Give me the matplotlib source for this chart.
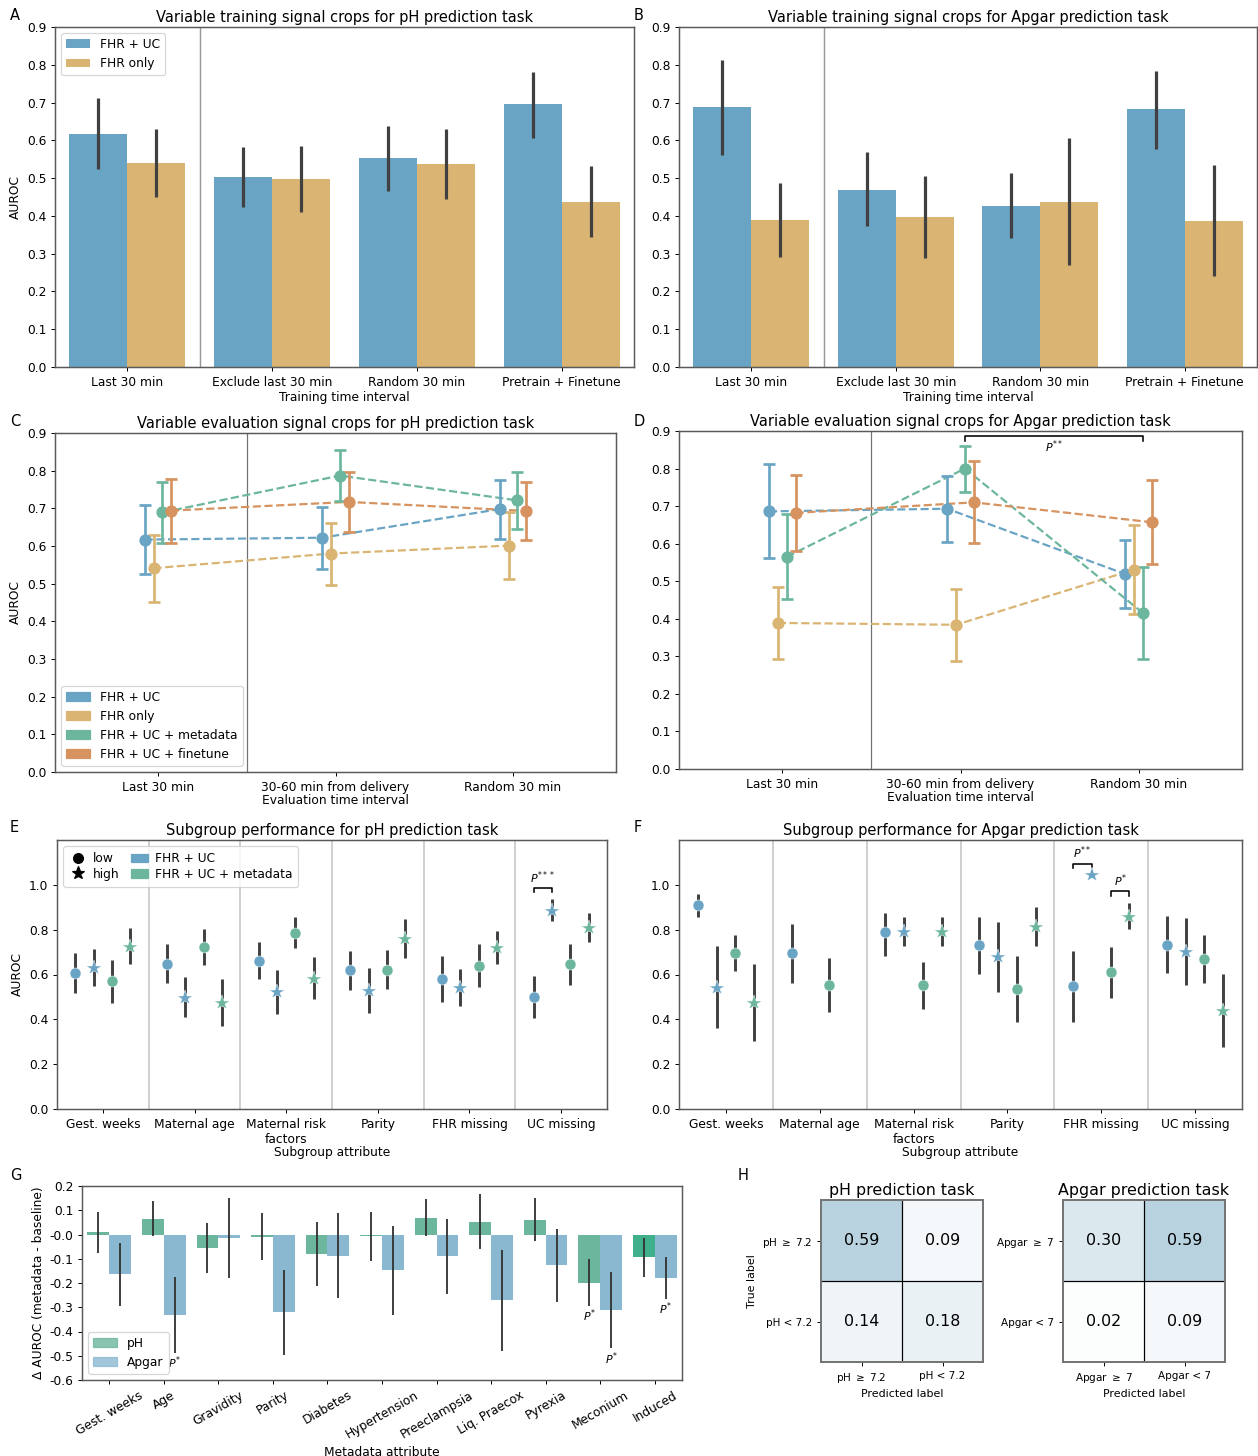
import numpy as np
import matplotlib
matplotlib.use('Agg')
import matplotlib.pyplot as plt
from matplotlib.patches import Patch
from matplotlib.lines import Line2D
from matplotlib.colors import LinearSegmentedColormap

plt.rcParams['font.family'] = ['DejaVu Sans']
plt.rcParams['axes.unicode_minus'] = False
plt.rcParams['axes.edgecolor'] = '0.35'
plt.rcParams['axes.linewidth'] = 1.2
plt.rcParams['font.size'] = 10

# ---------------- data ----------------
train_intervals = ['Last 30 min', 'Exclude last 30 min', 'Random 30 min', 'Pretrain + Finetune']
train_series = ['FHR + UC', 'FHR only']

ph_train_fhruc = [0.618, 0.504, 0.554, 0.695]
ph_train_fhruc_lo = [0.524, 0.424, 0.466, 0.606]
ph_train_fhruc_hi = [0.711, 0.583, 0.638, 0.782]
ph_train_fhr = [0.541, 0.498, 0.538, 0.437]
ph_train_fhr_lo = [0.450, 0.410, 0.444, 0.343]
ph_train_fhr_hi = [0.630, 0.586, 0.630, 0.532]

apgar_train_fhruc = [0.687, 0.469, 0.427, 0.682]
apgar_train_fhruc_lo = [0.561, 0.372, 0.341, 0.577]
apgar_train_fhruc_hi = [0.813, 0.569, 0.514, 0.784]
apgar_train_fhr = [0.390, 0.398, 0.438, 0.387]
apgar_train_fhr_lo = [0.292, 0.288, 0.270, 0.240]
apgar_train_fhr_hi = [0.487, 0.505, 0.607, 0.534]

eval_intervals = ['Last 30 min', '30-60 min from delivery', 'Random 30 min']
eval_series = ['FHR + UC', 'FHR only', 'FHR + UC + metadata', 'FHR + UC + finetune']

ph_eval_fhruc = [0.617, 0.622, 0.698]
ph_eval_fhruc_lo = [0.525, 0.540, 0.618]
ph_eval_fhruc_hi = [0.710, 0.703, 0.776]
ph_eval_fhr = [0.541, 0.580, 0.601]
ph_eval_fhr_lo = [0.452, 0.497, 0.512]
ph_eval_fhr_hi = [0.628, 0.661, 0.690]
ph_eval_meta = [0.689, 0.787, 0.721]
ph_eval_meta_lo = [0.607, 0.720, 0.645]
ph_eval_meta_hi = [0.770, 0.854, 0.797]
ph_eval_fine = [0.694, 0.717, 0.693]
ph_eval_fine_lo = [0.608, 0.638, 0.615]
ph_eval_fine_hi = [0.779, 0.796, 0.770]

apgar_eval_fhruc = [0.686, 0.693, 0.519]
apgar_eval_fhruc_lo = [0.562, 0.605, 0.430]
apgar_eval_fhruc_hi = [0.812, 0.781, 0.609]
apgar_eval_fhr = [0.389, 0.384, 0.531]
apgar_eval_fhr_lo = [0.293, 0.287, 0.413]
apgar_eval_fhr_hi = [0.485, 0.480, 0.649]
apgar_eval_meta = [0.565, 0.800, 0.415]
apgar_eval_meta_lo = [0.452, 0.737, 0.293]
apgar_eval_meta_hi = [0.679, 0.860, 0.539]
apgar_eval_fine = [0.682, 0.710, 0.657]
apgar_eval_fine_lo = [0.580, 0.603, 0.545]
apgar_eval_fine_hi = [0.783, 0.819, 0.770]

subgroups = ['Gest. weeks', 'Maternal age', 'Maternal risk\nfactors', 'Parity', 'FHR missing', 'UC missing']
nan = np.nan

ph_sub_base_low = [0.607, 0.649, 0.660, 0.619, 0.579, 0.499]
ph_sub_base_low_lo = [0.519, 0.564, 0.578, 0.530, 0.479, 0.406]
ph_sub_base_low_hi = [0.694, 0.737, 0.745, 0.706, 0.681, 0.594]
ph_sub_base_high = [0.628, 0.497, 0.522, 0.525, 0.539, 0.885]
ph_sub_base_high_lo = [0.548, 0.412, 0.425, 0.427, 0.460, 0.840]
ph_sub_base_high_hi = [0.715, 0.590, 0.622, 0.631, 0.624, 0.936]
ph_sub_meta_low = [0.569, 0.722, 0.787, 0.622, 0.639, 0.645]
ph_sub_meta_low_lo = [0.475, 0.643, 0.716, 0.534, 0.545, 0.555]
ph_sub_meta_low_hi = [0.663, 0.801, 0.857, 0.710, 0.734, 0.736]
ph_sub_meta_high = [0.722, 0.472, 0.581, 0.757, 0.716, 0.807]
ph_sub_meta_high_lo = [0.648, 0.369, 0.490, 0.675, 0.649, 0.746]
ph_sub_meta_high_hi = [0.806, 0.581, 0.678, 0.848, 0.793, 0.876]

apgar_sub_base_low = [0.909, 0.696, 0.791, 0.730, 0.548, 0.733]
apgar_sub_base_low_lo = [0.855, 0.564, 0.684, 0.603, 0.390, 0.606]
apgar_sub_base_low_hi = [0.961, 0.825, 0.873, 0.857, 0.704, 0.861]
apgar_sub_base_high = [0.542, nan, 0.788, 0.678, 1.045, 0.699]
apgar_sub_base_high_lo = [0.363, nan, 0.725, 0.522, nan, 0.552]
apgar_sub_base_high_hi = [0.728, nan, 0.857, 0.834, nan, 0.852]
apgar_sub_meta_low = [0.694, 0.552, 0.552, 0.534, 0.609, 0.670]
apgar_sub_meta_low_lo = [0.615, 0.433, 0.446, 0.388, 0.496, 0.564]
apgar_sub_meta_low_hi = [0.775, 0.672, 0.657, 0.684, 0.724, 0.776]
apgar_sub_meta_high = [0.472, nan, 0.788, 0.810, 0.858, 0.437]
apgar_sub_meta_high_lo = [0.303, nan, 0.725, 0.728, 0.803, 0.278]
apgar_sub_meta_high_hi = [0.648, nan, 0.858, 0.900, 0.921, 0.601]

# significance brackets: (group, series_a, series_b, label)
ph_sub_sig = [(5, 0, 1, '$P^{***}$')]
apgar_sub_sig = [(4, 0, 1, '$P^{**}$'), (4, 2, 3, '$P^{*}$')]

meta_attrs = ['Gest. weeks', 'Age', 'Gravidity', 'Parity', 'Diabetes', 'Hypertension',
              'Preeclampsia', 'Liq. Praecox', 'Pyrexia', 'Meconium', 'Induced']
delta_ph = [0.009, 0.065, -0.055, -0.010, -0.080, -0.006, 0.070, 0.053, 0.061, -0.201, -0.093]
delta_ph_lo = [-0.075, -0.006, -0.158, -0.106, -0.214, -0.109, -0.006, -0.061, -0.025, -0.294, -0.175]
delta_ph_hi = [0.093, 0.140, 0.046, 0.087, 0.053, 0.093, 0.146, 0.167, 0.152, -0.102, -0.014]
delta_apgar = [-0.162, -0.331, -0.014, -0.319, -0.088, -0.146, -0.088, -0.270, -0.127, -0.312, -0.179]
delta_apgar_lo = [-0.293, -0.488, -0.180, -0.497, -0.262, -0.330, -0.246, -0.479, -0.278, -0.470, -0.265]
delta_apgar_hi = [-0.036, -0.176, 0.150, -0.145, 0.087, 0.033, 0.065, -0.064, 0.024, -0.156, -0.092]
delta_sig = [(1, 'Apgar', '$P^{*}$'), (9, 'pH', '$P^{*}$'), (9, 'Apgar', '$P^{*}$'), (10, 'Apgar', '$P^{*}$')]

ph_cm_labels = ['pH $\\geq$ 7.2', 'pH < 7.2']
ph_cm = [[0.59, 0.09], [0.14, 0.18]]
apgar_cm_labels = ['Apgar $\\geq$ 7', 'Apgar < 7']
apgar_cm = [[0.30, 0.59], [0.02, 0.09]]

# ---------------- style ----------------
C_BLUE = '#6aa4c4'
C_YEL = '#dab473'
C_GRN = '#6cb69e'
C_BRN = '#d6925f'
C_ERR = '#404040'
C_APG = '#8bb8d1'

W, H = 1258, 1456
DPI = 88
fig = plt.figure(figsize=(W / DPI, H / DPI), dpi=DPI)


def rect(l, t, r, b):
    return [l / W, 1 - b / H, (r - l) / W, (b - t) / H]


def panel_label(x, y, s):
    fig.text(x / W, 1 - y / H, s, fontsize=12, ha='left', va='center')


# ---------------- A / B ----------------
def bar_panel(ax, fhruc, fhruc_lo, fhruc_hi, fhr, fhr_lo, fhr_hi, title, ylabel, legend):
    x = np.arange(len(train_intervals))
    ax.bar(x - 0.2, fhruc, width=0.4, color=C_BLUE, label=train_series[0], zorder=2)
    ax.bar(x + 0.2, fhr, width=0.4, color=C_YEL, label=train_series[1], zorder=2)
    ax.vlines(x - 0.2, fhruc_lo, fhruc_hi, color=C_ERR, lw=2.6, zorder=3)
    ax.vlines(x + 0.2, fhr_lo, fhr_hi, color=C_ERR, lw=2.6, zorder=3)
    ax.axvline(0.5, color='0.6', lw=1.2, zorder=1)
    ax.set_xlim(-0.5, 3.5)
    ax.set_ylim(0, 0.9)
    ax.set_yticks(np.arange(0, 0.91, 0.1))
    ax.set_xticks(x)
    ax.set_xticklabels(train_intervals)
    ax.set_xlabel('Training time interval', labelpad=2)
    if ylabel:
        ax.set_ylabel('AUROC')
    ax.set_title(title, fontsize=12, pad=4)
    if legend:
        ax.legend(loc='upper left', fontsize=10)


axA = fig.add_axes(rect(55, 27, 634, 367))
bar_panel(axA, ph_train_fhruc, ph_train_fhruc_lo, ph_train_fhruc_hi,
          ph_train_fhr, ph_train_fhr_lo, ph_train_fhr_hi,
          'Variable training signal crops for pH prediction task', True, True)
axB = fig.add_axes(rect(679, 27, 1257, 367))
bar_panel(axB, apgar_train_fhruc, apgar_train_fhruc_lo, apgar_train_fhruc_hi,
          apgar_train_fhr, apgar_train_fhr_lo, apgar_train_fhr_hi,
          'Variable training signal crops for Apgar prediction task', False, False)


# ---------------- C / D ----------------
def point_panel(ax, series, title, ylabel, legend):
    x = np.arange(len(eval_intervals))
    offs = [-0.075, -0.025, 0.025, 0.075]
    cols = [C_BLUE, C_YEL, C_GRN, C_BRN]
    for (v, lo, hi), off, c in zip(series, offs, cols):
        v = np.array(v); lo = np.array(lo); hi = np.array(hi)
        ax.plot(x + off, v, '--', color=c, lw=1.8, zorder=2)
        ax.errorbar(x + off, v, yerr=[v - lo, hi - v], fmt='o', color=c, ms=9,
                    elinewidth=2.2, capsize=5, capthick=2.2, zorder=3)
    ax.axvline(0.5, color='0.45', lw=1.0, zorder=1)
    ax.set_xlim(-0.58, 2.58)
    ax.set_ylim(0, 0.9)
    ax.set_yticks(np.arange(0, 0.91, 0.1))
    ax.set_xticks(x)
    ax.set_xticklabels(eval_intervals)
    ax.set_xlabel('Evaluation time interval', labelpad=0)
    if ylabel:
        ax.set_ylabel('AUROC')
    ax.set_title(title, fontsize=12, pad=4)
    if legend:
        handles = [Patch(color=c, label=s) for c, s in zip(cols, eval_series)]
        ax.legend(handles=handles, loc='lower left', fontsize=10)


axC = fig.add_axes(rect(55, 433, 616, 772))
point_panel(axC, [(ph_eval_fhruc, ph_eval_fhruc_lo, ph_eval_fhruc_hi),
                  (ph_eval_fhr, ph_eval_fhr_lo, ph_eval_fhr_hi),
                  (ph_eval_meta, ph_eval_meta_lo, ph_eval_meta_hi),
                  (ph_eval_fine, ph_eval_fine_lo, ph_eval_fine_hi)],
            'Variable evaluation signal crops for pH prediction task', True, True)
axD = fig.add_axes(rect(679, 431, 1242, 769))
point_panel(axD, [(apgar_eval_fhruc, apgar_eval_fhruc_lo, apgar_eval_fhruc_hi),
                  (apgar_eval_fhr, apgar_eval_fhr_lo, apgar_eval_fhr_hi),
                  (apgar_eval_meta, apgar_eval_meta_lo, apgar_eval_meta_hi),
                  (apgar_eval_fine, apgar_eval_fine_lo, apgar_eval_fine_hi)],
            'Variable evaluation signal crops for Apgar prediction task', False, False)
# P** bracket in D (metadata series, 30-60 vs random)
xa, xb = 1 + 0.025, 2 + 0.025
axD.plot([xa, xa, xb, xb], [0.874, 0.887, 0.887, 0.874], color='k', lw=1.3, clip_on=False)
axD.text((xa + xb) / 2, 0.857, '$P^{**}$', ha='center', va='center', fontsize=9)


# ---------------- E / F ----------------
def subgroup_panel(ax, series, sigs, title, ylabel, legend):
    x = np.arange(len(subgroups))
    offs = [-0.3, -0.1, 0.1, 0.3]
    cols = [C_BLUE, C_BLUE, C_GRN, C_GRN]
    marks = ['o', '*', 'o', '*']
    sizes = [9, 13, 9, 13]
    for (v, lo, hi), off, c, m, s in zip(series, offs, cols, marks, sizes):
        v = np.array(v, float); lo = np.array(lo, float); hi = np.array(hi, float)
        ax.vlines(x + off, lo, hi, color=C_ERR, lw=2.4, zorder=2)
        ax.plot(x + off, v, ls='none', marker=m, ms=s, color=c, mec='white', mew=0.4, zorder=3)
    for i in range(1, len(subgroups)):
        ax.axvline(i - 0.5, color='0.8', lw=1.5, zorder=1)
    for g, a, b, lab in sigs:
        va_ = series[a][0][g]; vb_ = series[b][0][g]
        hia = series[a][2][g]; hib = series[b][2][g]
        top = np.nanmax([va_, vb_, hia, hib])
        y = top + 0.05
        xa_, xb_ = g + offs[a], g + offs[b]
        ax.plot([xa_, xa_, xb_, xb_], [y - 0.02, y, y, y - 0.02], color='k', lw=1.3)
        ax.text((xa_ + xb_) / 2, y + 0.01, lab, ha='center', va='bottom', fontsize=9)
    ax.set_xlim(-0.5, len(subgroups) - 0.5)
    ax.set_ylim(0, 1.2)
    ax.set_yticks(np.arange(0, 1.01, 0.2))
    ax.set_xticks(x)
    ax.set_xticklabels(subgroups)
    ax.set_xlabel('Subgroup attribute', labelpad=0)
    if ylabel:
        ax.set_ylabel('AUROC')
    ax.set_title(title, fontsize=12, pad=4)
    if legend:
        handles = [Line2D([], [], ls='none', marker='o', color='k', ms=8, label='low'),
                   Line2D([], [], ls='none', marker='*', color='k', ms=11, label='high'),
                   Patch(color=C_BLUE, label='FHR + UC'),
                   Patch(color=C_GRN, label='FHR + UC + metadata')]
        ax.legend(handles=handles, loc='upper left', ncol=2, fontsize=10,
                  handlelength=1.4, handletextpad=0.5, columnspacing=1.0,
                  labelspacing=0.2, borderpad=0.5)


axE = fig.add_axes(rect(57, 840, 607, 1109))
subgroup_panel(axE, [(ph_sub_base_low, ph_sub_base_low_lo, ph_sub_base_low_hi),
                     (ph_sub_base_high, ph_sub_base_high_lo, ph_sub_base_high_hi),
                     (ph_sub_meta_low, ph_sub_meta_low_lo, ph_sub_meta_low_hi),
                     (ph_sub_meta_high, ph_sub_meta_high_lo, ph_sub_meta_high_hi)],
               ph_sub_sig, 'Subgroup performance for pH prediction task', True, True)
axF = fig.add_axes(rect(679, 840, 1242, 1109))
subgroup_panel(axF, [(apgar_sub_base_low, apgar_sub_base_low_lo, apgar_sub_base_low_hi),
                     (apgar_sub_base_high, apgar_sub_base_high_lo, apgar_sub_base_high_hi),
                     (apgar_sub_meta_low, apgar_sub_meta_low_lo, apgar_sub_meta_low_hi),
                     (apgar_sub_meta_high, apgar_sub_meta_high_lo, apgar_sub_meta_high_hi)],
               apgar_sub_sig, 'Subgroup performance for Apgar prediction task', False, False)

# ---------------- G ----------------
axG = fig.add_axes(rect(82, 1186, 682, 1380))
xg = np.arange(len(meta_attrs))
ph_cols = [C_GRN] * (len(meta_attrs) - 1) + ['#3faf8c']
axG.bar(xg - 0.2, delta_ph, width=0.4, color=ph_cols, zorder=2)
axG.bar(xg + 0.2, delta_apgar, width=0.4, color=C_APG, zorder=2)
axG.vlines(xg - 0.2, delta_ph_lo, delta_ph_hi, color='#333333', lw=1.5, zorder=3)
axG.vlines(xg + 0.2, delta_apgar_lo, delta_apgar_hi, color='#333333', lw=1.5, zorder=3)
for i, which, lab in delta_sig:
    if which == 'pH':
        xx, yy = i - 0.2, delta_ph_lo[i]
    else:
        xx, yy = i + 0.2, delta_apgar_lo[i]
    axG.text(xx, yy - 0.008, lab, ha='center', va='top', fontsize=9)
axG.set_xlim(-0.5, len(meta_attrs) - 0.5)
axG.set_ylim(-0.6, 0.2)
axG.set_yticks(np.round(np.arange(-0.6, 0.21, 0.1), 1))
axG.set_yticklabels([f'{v:.1f}' for v in np.round(np.arange(-0.6, 0.21, 0.1), 1)])
axG.set_xticks(xg)
axG.set_xticklabels(meta_attrs, rotation=30, ha='center')
axG.set_xlabel('Metadata attribute')
axG.set_ylabel('\u0394 AUROC (metadata - baseline)')
axG.legend(handles=[Patch(color=C_GRN, alpha=0.8, label='pH'),
                    Patch(color=C_APG, alpha=0.8, label='Apgar')],
           loc='lower left', fontsize=10)

# ---------------- H ----------------
cmap = LinearSegmentedColormap.from_list('cmblue', ['#ffffff', '#88b4c9'])


def cm_panel(ax, cm, labels, title, ylabel):
    cm = np.array(cm)
    ax.imshow(cm, cmap=cmap, vmin=0, vmax=1, aspect='auto')
    for i in range(2):
        for j in range(2):
            ax.text(j, i, f'{cm[i, j]:.2f}', ha='center', va='center', fontsize=13)
    ax.axhline(0.5, color='k', lw=1)
    ax.axvline(0.5, color='k', lw=1)
    ax.set_xticks([0, 1])
    ax.set_yticks([0, 1])
    ax.set_xticklabels(labels, fontsize=8.5)
    ax.set_yticklabels(labels, fontsize=8.5)
    ax.set_xlabel('Predicted label', fontsize=9)
    if ylabel:
        ax.set_ylabel('True label', fontsize=9)
    ax.set_title(title, fontsize=13, pad=4)
    for s in ax.spines.values():
        s.set_color('0.45')
        s.set_linewidth(1.6)


axH1 = fig.add_axes(rect(821, 1200, 983, 1362))
cm_panel(axH1, ph_cm, ph_cm_labels, 'pH prediction task', True)
axH2 = fig.add_axes(rect(1063, 1200, 1225, 1362))
cm_panel(axH2, apgar_cm, apgar_cm_labels, 'Apgar prediction task', False)

# ---------------- panel letters ----------------
panel_label(10, 15, 'A')
panel_label(634, 15, 'B')
panel_label(10, 421, 'C')
panel_label(634, 421, 'D')
panel_label(10, 828, 'E')
panel_label(634, 828, 'F')
panel_label(10, 1175, 'G')
panel_label(738, 1175, 'H')

fig.savefig('out.png', dpi=DPI)
